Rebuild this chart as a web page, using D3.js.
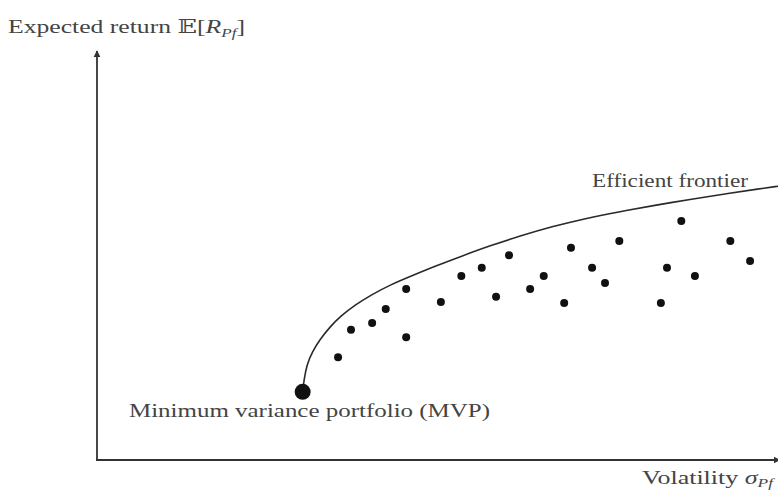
<!DOCTYPE html>
<html>
<head>
<meta charset="utf-8">
<script src="https://cdn.jsdelivr.net/npm/d3@7"></script>
<style>
  body { margin: 0; background: #fff; }
  text { font-family: "Liberation Serif", "DejaVu Serif", serif; fill: #444; }
</style>
</head>
<body>
<div id="chart"></div>
<script>
// portfolios (volatility, expected return)
var port_vol = [3.54, 3.73, 4.04, 4.24, 4.54, 4.54, 5.05, 5.35, 5.65, 5.86, 6.05, 6.36,
                6.56, 6.86, 6.96, 7.27, 7.46, 7.67, 8.28, 8.37, 8.58, 8.78, 9.30, 9.59];
var port_ret = [2.52, 3.19, 3.36, 3.70, 4.19, 3.01, 3.87, 4.51, 4.71, 4.00, 5.02, 4.19,
                4.51, 3.85, 5.20, 4.71, 4.34, 5.37, 3.85, 4.71, 5.86, 4.51, 5.37, 4.88];

// efficient frontier
var front_vol = [3.02, 3.04, 3.08, 3.16, 3.28, 3.42, 3.58, 3.79, 4.02, 4.30, 4.63, 4.98,
                 5.36, 5.77, 6.21, 6.68, 7.17, 7.68, 8.19, 8.71, 9.22, 9.74, 10.0];
var front_ret = [1.67, 1.96, 2.33, 2.65, 2.97, 3.26, 3.53, 3.80, 4.04, 4.29, 4.52, 4.76,
                 5.00, 5.25, 5.49, 5.72, 5.92, 6.09, 6.24, 6.39, 6.52, 6.65, 6.71];

// minimum variance portfolio
var mvp = [3.02, 1.67];

const width = 778
const height = 491

var svg = d3.select('#chart').append('svg')
  .attr('width', width)
  .attr('height', height);

var x = d3.scaleLinear().domain([0, 10]).range([97, 778]);
var y = d3.scaleLinear().domain([0, 10]).range([460, 52]);

// arrow head
svg.append('defs').append('marker')
  .attr('id', 'arrow')
  .attr('viewBox', '0 0 10 10')
  .attr('refX', 9)
  .attr('refY', 5)
  .attr('markerWidth', 4)
  .attr('markerHeight', 4)
  .attr('orient', 'auto')
  .append('path')
  .attr('d', 'M0,0 L10,5 L0,10 z')
  .attr('fill', '#333');

// axes
svg.append('line')
  .attr('x1', x(0)).attr('y1', y(0))
  .attr('x2', x(0)).attr('y2', y(10) - 1)
  .attr('stroke', '#333')
  .attr('stroke-width', 1.8)
  .attr('marker-end', 'url(#arrow)');
svg.append('line')
  .attr('x1', x(0) - 1).attr('y1', y(0))
  .attr('x2', x(10) + 2).attr('y2', y(0))
  .attr('stroke', '#333')
  .attr('stroke-width', 1.8)
  .attr('marker-end', 'url(#arrow)');

// frontier curve
var front = front_vol.map(function(v, i) { return [v, front_ret[i]]; });
var line = d3.line()
  .x(function(d) { return x(d[0]); })
  .y(function(d) { return y(d[1]); })
  .curve(d3.curveBasis);
svg.append('path')
  .datum(front)
  .attr('d', line)
  .attr('fill', 'none')
  .attr('stroke', '#2a2a2a')
  .attr('stroke-width', 1.6);

// portfolio dots
svg.selectAll('circle.pf')
  .data(port_vol)
  .enter()
  .append('circle')
  .attr('class', 'pf')
  .attr('cx', function(d) { return x(d); })
  .attr('cy', function(d, i) { return y(port_ret[i]); })
  .attr('r', 4)
  .attr('fill', '#111');

svg.append('circle')
  .attr('cx', x(mvp[0]))
  .attr('cy', y(mvp[1]))
  .attr('r', 8)
  .attr('fill', '#111');

// labels
var ylab = svg.append('text')
  .attr('x', 8)
  .attr('y', 33)
  .style('font-size', '18px')
  .attr('textLength', 237)
  .attr('lengthAdjust', 'spacingAndGlyphs');
ylab.append('tspan').text('Expected return ');
ylab.append('tspan').text('𝔼[');
ylab.append('tspan').style('font-style', 'italic').text('R');
ylab.append('tspan').style('font-style', 'italic').style('font-size', '12px').attr('dy', 4).text('Pf');
ylab.append('tspan').attr('dy', -4).text(']');

svg.append('text')
  .attr('x', 592)
  .attr('y', 187)
  .style('font-size', '18px')
  .attr('textLength', 156)
  .attr('lengthAdjust', 'spacingAndGlyphs')
  .text('Efficient frontier');

svg.append('text')
  .attr('x', 129)
  .attr('y', 417)
  .style('font-size', '18px')
  .attr('textLength', 361)
  .attr('lengthAdjust', 'spacingAndGlyphs')
  .text('Minimum variance portfolio (MVP)');

var xlab = svg.append('text')
  .attr('x', 642)
  .attr('y', 484)
  .style('font-size', '18px')
  .attr('textLength', 131)
  .attr('lengthAdjust', 'spacingAndGlyphs');
xlab.append('tspan').text('Volatility ');
xlab.append('tspan').style('font-style', 'italic').text('σ');
xlab.append('tspan').style('font-style', 'italic').style('font-size', '12px').attr('dy', 3).text('Pf');
</script>
</body>
</html>
